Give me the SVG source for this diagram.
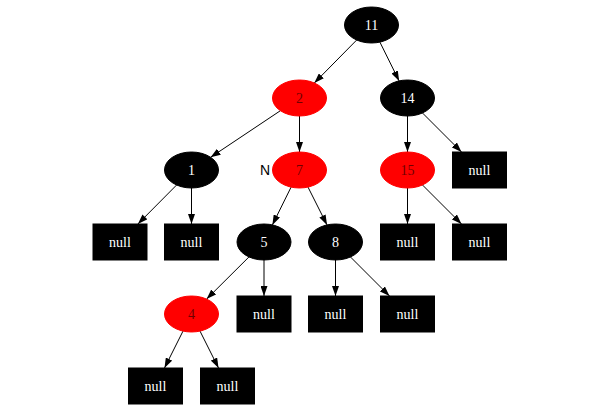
<svg xmlns="http://www.w3.org/2000/svg" width="593" height="407" viewBox="0 0 593 407">
<style>
.bn ellipse{fill:#000;stroke:#000}
.rn ellipse{fill:#ff0000;stroke:#ff0000}
.nl rect{fill:#000;stroke:#000}
text{font-family:"Liberation Serif","Times New Roman",serif;font-size:14px;text-anchor:middle;dominant-baseline:central}
.bn text,.nl text{fill:#fff}
.rn text{fill:#700000}
.rn text.lbl{fill:#000}
.lbl{font-family:"Liberation Sans",Arial,sans-serif}
#edges line{stroke:#000;stroke-width:1;marker-end:url(#arr)}
</style>
<defs>
<marker id="arr" markerUnits="userSpaceOnUse" markerWidth="10" markerHeight="7" refX="10" refY="3.5" orient="auto">
<path d="M0,0 L10,3.5 L0,7 z" fill="#000"/>
</marker>
</defs>
<g id="edges">
<line x1="356.7" y1="40" x2="314.3" y2="83"/>
<line x1="379.9" y1="42.1" x2="399.1" y2="80.9"/>
<line x1="280.4" y1="110.7" x2="210.6" y2="157.3"/>
<line x1="299.5" y1="116" x2="299.5" y2="152"/>
<line x1="407.5" y1="116" x2="407.5" y2="152"/>
<line x1="422.5" y1="113" x2="461.5" y2="152"/>
<line x1="176.6" y1="185" x2="137.9" y2="224"/>
<line x1="191.5" y1="188" x2="191.5" y2="224"/>
<line x1="291.1" y1="187.1" x2="272.4" y2="224.9"/>
<line x1="308" y1="187.1" x2="327" y2="224.9"/>
<line x1="407.5" y1="188" x2="407.5" y2="224"/>
<line x1="422.5" y1="185" x2="461.5" y2="224"/>
<line x1="249" y1="256.9" x2="206.6" y2="299.1"/>
<line x1="264" y1="260" x2="264" y2="296"/>
<line x1="335.5" y1="260" x2="335.5" y2="296"/>
<line x1="350.5" y1="257" x2="389.5" y2="296"/>
<line x1="183" y1="331.1" x2="164.5" y2="368"/>
<line x1="200" y1="331.1" x2="218.5" y2="368"/>
</g>
<g id="n11" class="bn"><ellipse cx="371.5" cy="25" rx="27" ry="18"/><text x="371.5" y="25">11</text></g>
<g id="n2" class="rn"><ellipse cx="299.5" cy="98" rx="27" ry="18"/><text x="299.5" y="98">2</text></g>
<g id="n14" class="bn"><ellipse cx="407.5" cy="98" rx="27" ry="18"/><text x="407.5" y="98">14</text></g>
<g id="n1" class="bn"><ellipse cx="191.5" cy="170" rx="27" ry="18"/><text x="191.5" y="170">1</text></g>
<g id="n7" class="rn"><ellipse cx="299.5" cy="170" rx="27" ry="18"/><text x="299.5" y="170">7</text><text class="lbl" x="265" y="170">N</text></g>
<g id="n15" class="rn"><ellipse cx="407.5" cy="170" rx="27" ry="18"/><text x="407.5" y="170">15</text></g>
<g id="null14" class="nl"><rect x="452.5" y="152" width="54" height="36"/><text x="479.5" y="170">null</text></g>
<g id="null1a" class="nl"><rect x="93" y="224" width="54" height="36"/><text x="120" y="242">null</text></g>
<g id="null1b" class="nl"><rect x="164.5" y="224" width="54" height="36"/><text x="191.5" y="242">null</text></g>
<g id="n5" class="bn"><ellipse cx="264" cy="242" rx="27" ry="18"/><text x="264" y="242">5</text></g>
<g id="n8" class="bn"><ellipse cx="335.5" cy="242" rx="27" ry="18"/><text x="335.5" y="242">8</text></g>
<g id="null15a" class="nl"><rect x="380.5" y="224" width="54" height="36"/><text x="407.5" y="242">null</text></g>
<g id="null15b" class="nl"><rect x="452.5" y="224" width="54" height="36"/><text x="479.5" y="242">null</text></g>
<g id="n4" class="rn"><ellipse cx="191.5" cy="314" rx="27" ry="18"/><text x="191.5" y="314">4</text></g>
<g id="null5" class="nl"><rect x="237" y="296" width="54" height="36"/><text x="264" y="314">null</text></g>
<g id="null8a" class="nl"><rect x="308.5" y="296" width="54" height="36"/><text x="335.5" y="314">null</text></g>
<g id="null8b" class="nl"><rect x="380.5" y="296" width="54" height="36"/><text x="407.5" y="314">null</text></g>
<g id="null4a" class="nl"><rect x="128.5" y="368" width="54" height="36"/><text x="155.5" y="386">null</text></g>
<g id="null4b" class="nl"><rect x="200.5" y="368" width="54" height="36"/><text x="227.5" y="386">null</text></g>
</svg>
